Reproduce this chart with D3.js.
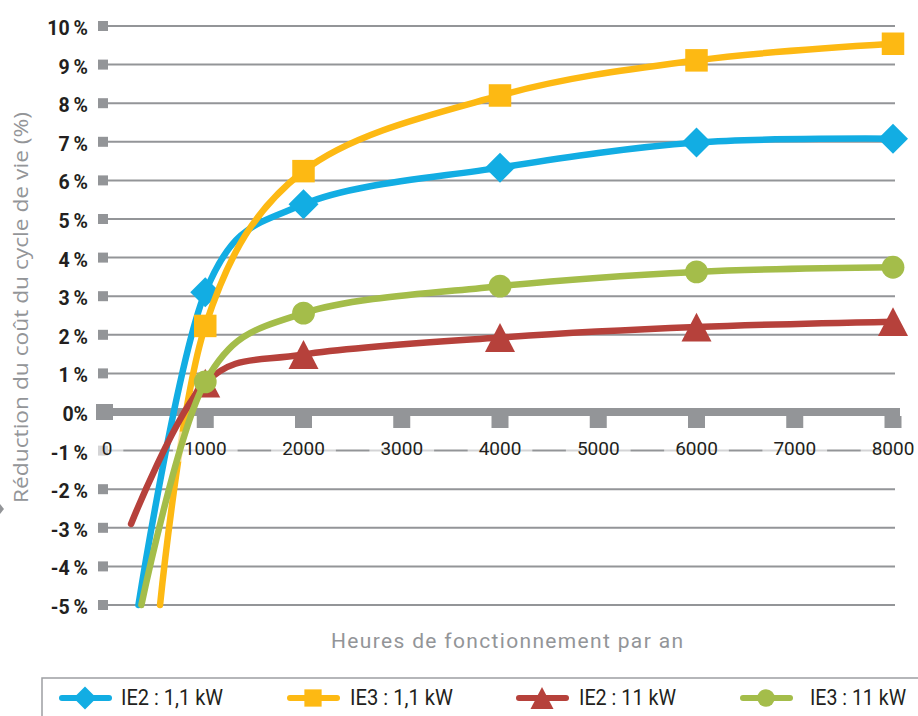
<!DOCTYPE html>
<html lang="fr">
<head>
<meta charset="utf-8">
<script src="https://cdn.jsdelivr.net/npm/d3@7"></script>
<style>
  html, body { margin: 0; padding: 0; background: #fff; }
  svg { display: block; }
</style>
</head>
<body>
<div id="chart"></div>
<script>
// Heures de fonctionnement (points marqués) et réduction du coût du cycle de vie (%)
const hours = [1000, 2000, 4000, 6000, 8000];
const seriesNames = ["IE2 : 1,1 kW", "IE3 : 1,1 kW", "IE2 : 11 kW", "IE3 : 11 kW"];
const seriesColors = ["#12ade3", "#fdb913", "#b6413b", "#a4bd4a"];
const seriesMarkers = ["diamond", "square", "triangle", "circle"];
// premier point de chaque courbe (non marqué)
const startHours = [320, 540, 245, 350];
const startValues = [-5, -5, -2.9, -5];
const ie2_1_1kW = [3.1, 5.38, 6.33, 6.98, 7.08];
const ie3_1_1kW = [2.23, 6.24, 8.2, 9.11, 9.54];
const ie2_11kW = [0.75, 1.49, 1.93, 2.2, 2.34];
const ie3_11kW = [0.78, 2.56, 3.26, 3.63, 3.75];

const yTicks = [-5, -4, -3, -2, -1, 0, 1, 2, 3, 4, 5, 6, 7, 8, 9, 10];
const yTickLabels = ["-5\u2009%", "-4\u2009%", "-3\u2009%", "-2\u2009%", "-1\u2009%", "0%",
  "1\u2009%", "2\u2009%", "3\u2009%", "4\u2009%", "5\u2009%", "6\u2009%", "7\u2009%", "8\u2009%", "9\u2009%", "10\u2009%"];
const xTicks = [0, 1000, 2000, 3000, 4000, 5000, 6000, 7000, 8000];
const xTickLabels = ["0", "1000", "2000", "3000", "4000", "5000", "6000", "7000", "8000"];

const xTitle = "Heures de fonctionnement par an";
const yTitle = "Réduction du coût du cycle de vie (%)";

const W = 918, H = 716;
const GRAY = "#939598", INK = "#231f20";

const values = [ie2_1_1kW, ie3_1_1kW, ie2_11kW, ie3_11kW];
const series = seriesNames.map((name, i) => ({
  name,
  color: seriesColors[i],
  marker: seriesMarkers[i],
  line: [[startHours[i], startValues[i]]].concat(hours.map((h, j) => [h, values[i][j]])),
  points: hours.map((h, j) => [h, values[i][j]])
}));

const x = d3.scaleLinear().domain([0, 8000]).range([107, 893]);
const y = d3.scaleLinear().domain([-5, 10]).range([605, 26]);

const svg = d3.select("#chart").append("svg")
  .attr("width", W).attr("height", H)
  .attr("viewBox", `0 0 ${W} ${H}`);

// lignes de quadrillage horizontales
const grid = svg.append("g");
grid.selectAll("line")
  .data(yTicks.filter(v => v !== 0))
  .join("line")
  .attr("x1", 108).attr("x2", 895)
  .attr("y1", d => y(d)).attr("y2", d => y(d))
  .attr("stroke", GRAY).attr("stroke-width", 2);

// petits carrés de graduation à gauche
grid.selectAll("rect.yt")
  .data(yTicks.filter(v => v !== 0))
  .join("rect").attr("class", "yt")
  .attr("x", 98).attr("y", d => y(d) - 5)
  .attr("width", 10).attr("height", 10)
  .attr("fill", GRAY);

// axe du zéro, épais, avec ses graduations carrées
const zeroY = y(0);
grid.append("rect")
  .attr("x", 96).attr("y", zeroY - 4).attr("width", 900 - 96).attr("height", 8)
  .attr("fill", GRAY);
grid.append("rect")
  .attr("x", 96).attr("y", zeroY - 8).attr("width", 17).attr("height", 16)
  .attr("fill", GRAY);
grid.selectAll("rect.xt")
  .data(xTicks.filter(v => v > 0))
  .join("rect").attr("class", "xt")
  .attr("x", d => x(d) - 8.5).attr("y", zeroY + 4)
  .attr("width", 17).attr("height", 12)
  .attr("fill", GRAY);

// étiquettes de l'axe vertical
svg.append("g").selectAll("text")
  .data(yTicks)
  .join("text")
  .attr("x", 88).attr("y", d => y(d) + 9)
  .attr("text-anchor", "end")
  .attr("font-family", "Roboto, 'Open Sans', sans-serif")
  .attr("font-weight", 700).attr("font-size", 19.5)
  .attr("fill", INK)
  .text((d, i) => yTickLabels[i]);

const lineGen = d3.line()
  .x(d => x(d[0])).y(d => y(d[1]))
  .curve(d3.curveCardinal.tension(0));

function drawMarker(g, type, cx, cy, color, s) {
  if (type === "diamond") {
    g.append("path")
      .attr("d", `M${cx},${cy - s * 0.5}L${cx + s * 0.5},${cy}L${cx},${cy + s * 0.5}L${cx - s * 0.5},${cy}Z`)
      .attr("fill", color);
  } else if (type === "square") {
    const a = s * 0.75;
    g.append("rect").attr("x", cx - a / 2).attr("y", cy - a / 2)
      .attr("width", a).attr("height", a).attr("fill", color);
  } else if (type === "triangle") {
    const hw = s * 0.5, hh = s * 0.48;
    g.append("path")
      .attr("d", `M${cx},${cy - hh}L${cx + hw},${cy + hh}L${cx - hw},${cy + hh}Z`)
      .attr("fill", color);
  } else {
    g.append("circle").attr("cx", cx).attr("cy", cy).attr("r", s * 0.38).attr("fill", color);
  }
}

function drawSeries(s) {
  const g = svg.append("g");
  g.append("path")
    .attr("d", lineGen(s.line))
    .attr("fill", "none")
    .attr("stroke", s.color)
    .attr("stroke-width", 6.5)
    .attr("stroke-linecap", "round")
    .attr("stroke-linejoin", "round");
  s.points.forEach(p => drawMarker(g, s.marker, x(p[0]), y(p[1]), s.color, 30));
}

// courbes 1,1 kW
drawSeries(series[0]);
drawSeries(series[1]);

// étiquettes de l'axe horizontal, sur fond blanc translucide
const xLab = svg.append("g");
const labelY = y(-1);
const xl = xLab.selectAll("g")
  .data(xTicks)
  .join("g");
xl.append("rect").attr("class", "bg");
xl.append("text")
  .attr("x", d => x(d)).attr("y", labelY + 4)
  .attr("text-anchor", "middle")
  .attr("font-family", "Roboto, 'Open Sans', sans-serif")
  .attr("font-size", 19)
  .attr("fill", INK)
  .text((d, i) => xTickLabels[i]);
xl.each(function () {
  const t = d3.select(this).select("text").node();
  const w = t.getComputedTextLength();
  const cx = +t.getAttribute("x");
  d3.select(this).select("rect")
    .attr("x", cx - w / 2 - 11).attr("y", labelY - 19)
    .attr("width", w + 22).attr("height", 30)
    .attr("fill", "#fff").attr("fill-opacity", 0.6);
});
xl.each(function () { this.appendChild(d3.select(this).select("text").node()); });

// courbes 11 kW
drawSeries(series[2]);
drawSeries(series[3]);

// titres des axes
svg.append("text")
  .attr("x", 507).attr("y", 648)
  .attr("text-anchor", "middle")
  .attr("font-family", "Roboto, sans-serif")
  .attr("font-size", 21)
  .attr("fill", GRAY)
  .attr("textLength", 352).attr("lengthAdjust", "spacing")
  .text(xTitle);

svg.append("text")
  .attr("transform", "translate(28,307.5) rotate(-90)")
  .attr("text-anchor", "middle")
  .attr("font-family", "'Open Sans', sans-serif")
  .attr("font-size", 20.5)
  .attr("fill", GRAY)
  .attr("textLength", 391).attr("lengthAdjust", "spacingAndGlyphs")
  .text(yTitle);

// petit losange gris au bord gauche
svg.append("path")
  .attr("d", "M0,504L4,509L0,514Z")
  .attr("fill", GRAY);

// légende
const legend = svg.append("g");
legend.append("rect")
  .attr("x", 42).attr("y", 678).attr("width", 900).attr("height", 60)
  .attr("fill", "none").attr("stroke", "#9d9fa2").attr("stroke-width", 1.5);

const legendLineX = [59, 287, 516, 740];
const legendTextX = [121, 350, 579, 810];
const legendTextW = [102, 103, 97, 96];
const legendY = 698;
series.forEach((s, i) => {
  const g = legend.append("g");
  const x0 = legendLineX[i];
  g.append("line")
    .attr("x1", x0 + 3).attr("x2", x0 + 50)
    .attr("y1", legendY).attr("y2", legendY)
    .attr("stroke", s.color).attr("stroke-width", 6)
    .attr("stroke-linecap", "round");
  drawMarker(g, s.marker, x0 + 26, legendY, s.color, 23);
  g.append("text")
    .attr("x", legendTextX[i]).attr("y", 705)
    .attr("font-family", "Roboto, sans-serif")
    .attr("font-size", 22)
    .attr("fill", INK)
    .attr("textLength", legendTextW[i]).attr("lengthAdjust", "spacingAndGlyphs")
    .text(s.name);
});
</script>
</body>
</html>
